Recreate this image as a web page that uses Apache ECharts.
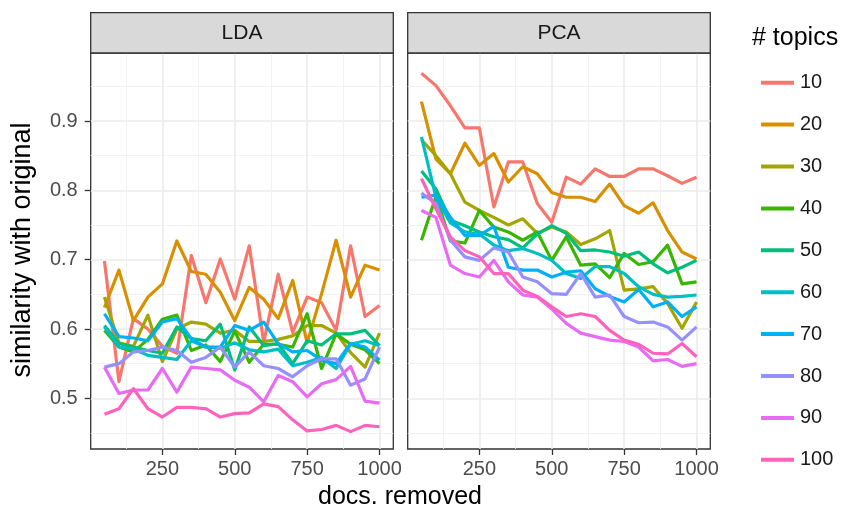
<!DOCTYPE html>
<html>
<head>
<meta charset="utf-8">
<script src="https://cdn.jsdelivr.net/npm/echarts@6/dist/echarts.min.js"></script>
<style>
html,body{margin:0;padding:0;background:#fff;}
#chart{width:845px;height:512px;}
</style>
</head>
<body>
<div id="chart"></div>
<script>
// ---- data ----
var docs = [50,100,150,200,250,300,350,400,450,500,550,600,650,700,750,800,850,900,950,1000];
var topics = ['10','20','30','40','50','60','70','80','90','100'];
var panels = ['LDA','PCA'];
var xTicks = [250,500,750,1000];
var yTicks = [0.5,0.6,0.7,0.8,0.9];

var lda_10  = [0.698,0.524,0.615,0.600,0.575,0.565,0.706,0.638,0.701,0.643,0.720,0.581,0.679,0.595,0.646,0.638,0.598,0.720,0.618,0.634];
var lda_20  = [0.631,0.685,0.612,0.646,0.665,0.727,0.683,0.679,0.653,0.612,0.660,0.643,0.615,0.670,0.580,0.651,0.728,0.646,0.692,0.685];
var lda_30  = [0.646,0.580,0.575,0.620,0.553,0.600,0.610,0.607,0.594,0.598,0.582,0.582,0.585,0.590,0.605,0.605,0.594,0.566,0.545,0.594];
var lda_40  = [0.598,0.574,0.567,0.585,0.614,0.620,0.569,0.577,0.553,0.597,0.552,0.578,0.578,0.574,0.622,0.543,0.593,0.578,0.570,0.550];
var lda_50  = [0.605,0.579,0.574,0.569,0.565,0.603,0.586,0.583,0.607,0.541,0.603,0.576,0.579,0.550,0.583,0.577,0.593,0.593,0.598,0.576];
var lda_60  = [0.603,0.574,0.571,0.562,0.559,0.556,0.583,0.574,0.572,0.580,0.570,0.567,0.571,0.547,0.552,0.559,0.543,0.578,0.583,0.576];
var lda_70  = [0.622,0.589,0.587,0.583,0.610,0.615,0.586,0.574,0.574,0.605,0.598,0.610,0.579,0.567,0.569,0.555,0.550,0.579,0.574,0.555];
var lda_80  = [0.545,0.550,0.567,0.569,0.574,0.569,0.552,0.559,0.574,0.545,0.567,0.547,0.543,0.531,0.547,0.557,0.557,0.519,0.528,0.574];
var lda_90  = [0.545,0.507,0.512,0.512,0.543,0.509,0.545,0.543,0.541,0.526,0.516,0.495,0.533,0.524,0.502,0.521,0.527,0.546,0.496,0.493];
var lda_100 = [0.477,0.485,0.514,0.485,0.473,0.487,0.487,0.485,0.473,0.478,0.479,0.492,0.488,0.469,0.453,0.455,0.461,0.452,0.461,0.459];

var pca_10  = [0.969,0.951,0.922,0.890,0.890,0.776,0.841,0.841,0.781,0.754,0.819,0.809,0.831,0.820,0.820,0.831,0.831,0.821,0.810,0.819];
var pca_20  = [0.928,0.845,0.824,0.868,0.836,0.853,0.812,0.834,0.824,0.797,0.790,0.790,0.784,0.809,0.778,0.767,0.782,0.742,0.711,0.701];
var pca_30  = [0.873,0.850,0.824,0.783,0.771,0.761,0.750,0.759,0.738,0.747,0.740,0.722,0.730,0.742,0.656,0.658,0.661,0.637,0.601,0.639];
var pca_40  = [0.728,0.791,0.727,0.724,0.771,0.747,0.740,0.728,0.740,0.699,0.733,0.692,0.694,0.674,0.709,0.693,0.697,0.721,0.665,0.668];
var pca_50  = [0.828,0.802,0.757,0.749,0.740,0.733,0.729,0.717,0.737,0.749,0.738,0.713,0.714,0.711,0.705,0.711,0.694,0.681,0.689,0.699];
var pca_60  = [0.877,0.790,0.753,0.740,0.737,0.721,0.713,0.716,0.709,0.699,0.680,0.673,0.690,0.690,0.680,0.661,0.650,0.646,0.647,0.649];
var pca_70  = [0.790,0.793,0.761,0.735,0.735,0.748,0.689,0.685,0.685,0.675,0.682,0.684,0.658,0.647,0.639,0.657,0.632,0.639,0.618,0.632];
var pca_80  = [0.796,0.781,0.728,0.704,0.699,0.717,0.711,0.675,0.668,0.651,0.650,0.680,0.646,0.649,0.618,0.609,0.610,0.603,0.584,0.603];
var pca_90  = [0.771,0.761,0.692,0.680,0.675,0.699,0.668,0.649,0.646,0.629,0.608,0.594,0.589,0.584,0.582,0.574,0.554,0.556,0.546,0.550];
var pca_100 = [0.817,0.773,0.733,0.713,0.704,0.680,0.680,0.656,0.647,0.632,0.618,0.622,0.618,0.598,0.584,0.578,0.565,0.564,0.579,0.560];

var ldaSeries = [lda_10,lda_20,lda_30,lda_40,lda_50,lda_60,lda_70,lda_80,lda_90,lda_100];
var pcaSeries = [pca_10,pca_20,pca_30,pca_40,pca_50,pca_60,pca_70,pca_80,pca_90,pca_100];

// ---- style ----
var colors = ['#F8766D','#D89000','#A3A500','#39B600','#00BF7D','#00BFC4','#00B0F6','#9590FF','#E76BF3','#FF62BC'];
var FONT = '"Liberation Sans", Arial, sans-serif';
var X_MIN = 2.5, X_MAX = 1047.5, Y_MIN = 0.4269, Y_MAX = 0.9981;
var gridBoxes = [
  {left: 90.7, top: 53, width: 302.6, height: 396},
  {left: 407.7, top: 53, width: 302.6, height: 396}
];
var xMinor = [125,375,625,875];
var yMinor = [0.45,0.55,0.65,0.75,0.85,0.95];

var chart = echarts.init(document.getElementById('chart'), null, {renderer: 'canvas'});

var grids = [], xAxes = [], yAxes = [], series = [];
gridBoxes.forEach(function (g, i) {
  grids.push({left: g.left, top: g.top, width: g.width, height: g.height, show: true,
    backgroundColor: '#ffffff', borderColor: '#333333', borderWidth: 1.3, containLabel: false});
  // major x
  xAxes.push({gridIndex: i, type: 'value', min: X_MIN, max: X_MAX, position: 'bottom',
    axisLine: {show: false},
    axisTick: {show: true, length: 6, customValues: xTicks, lineStyle: {color: '#333333', width: 1.3}},
    axisLabel: {show: true, customValues: xTicks, color: '#4D4D4D', fontSize: 20, fontFamily: FONT, margin: 10,
      formatter: function (v) { return String(Math.round(v)); }},
    splitLine: {show: true, lineStyle: {color: '#EBEBEB', width: 1.6}}
  });
  // minor x
  xAxes.push({gridIndex: i, type: 'value', min: X_MIN, max: X_MAX, position: 'bottom',
    axisLine: {show: false},
    axisTick: {show: false, customValues: xMinor},
    axisLabel: {show: false, customValues: xMinor},
    splitLine: {show: true, lineStyle: {color: '#F1F1F1', width: 0.9}}
  });
  yAxes.push({gridIndex: i, type: 'value', min: Y_MIN, max: Y_MAX, position: 'left',
    axisLine: {show: false},
    axisTick: {show: i === 0, length: 6, customValues: yTicks, lineStyle: {color: '#333333', width: 1.3}},
    axisLabel: {show: i === 0, customValues: yTicks, color: '#4D4D4D', fontSize: 20, fontFamily: FONT, margin: 13,
      formatter: function (v) { return v.toFixed(1); }},
    splitLine: {show: true, lineStyle: {color: '#EBEBEB', width: 1.6}}
  });
  yAxes.push({gridIndex: i, type: 'value', min: Y_MIN, max: Y_MAX, position: 'left',
    axisLine: {show: false},
    axisTick: {show: false, customValues: yMinor},
    axisLabel: {show: false, customValues: yMinor},
    splitLine: {show: true, lineStyle: {color: '#F1F1F1', width: 0.9}}
  });
});

function buildSeries(arrs, panelIdx) {
  arrs.forEach(function (vals, k) {
    series.push({
      name: topics[k], type: 'line', xAxisIndex: panelIdx * 2, yAxisIndex: panelIdx * 2,
      data: docs.map(function (d, j) { return [d, vals[j]]; }),
      showSymbol: false, symbol: 'none', smooth: false, animation: false,
      lineStyle: {color: colors[k], width: 3.2, join: 'round'},
      itemStyle: {color: colors[k]},
      z: 3 + k
    });
  });
}
buildSeries(ldaSeries, 0);
buildSeries(pcaSeries, 1);

var graphics = [];
panels.forEach(function (p, i) {
  var g = gridBoxes[i];
  graphics.push({type: 'rect', shape: {x: g.left, y: 12.7, width: g.width, height: g.top - 12.7},
    style: {fill: '#D9D9D9', stroke: '#333333', lineWidth: 1.3}, z: 10});
  graphics.push({type: 'text', x: g.left + g.width / 2, y: (12.7 + g.top) / 2,
    style: {text: p, fill: '#1A1A1A', font: '21px ' + FONT, align: 'center', verticalAlign: 'middle'}, z: 11});
});
graphics.push({type: 'text', x: 400, y: 497,
  style: {text: 'docs. removed', fill: '#000000', font: '25px ' + FONT, align: 'center', verticalAlign: 'middle'}});
graphics.push({type: 'text', x: 23, y: 250, rotation: Math.PI / 2,
  style: {text: 'similarity with original', fill: '#000000', font: '27px ' + FONT, align: 'center', verticalAlign: 'middle'}});
graphics.push({type: 'text', x: 752, y: 38,
  style: {text: '# topics', fill: '#000000', font: '25px ' + FONT, align: 'left', verticalAlign: 'middle'}});

chart.setOption({
  animation: false,
  backgroundColor: '#ffffff',
  grid: grids,
  xAxis: xAxes,
  yAxis: yAxes,
  series: series,
  legend: {
    show: true, orient: 'vertical', left: 756, top: 67.7,
    data: topics.map(function (t) { return {name: t, icon: 'rect'}; }),
    itemWidth: 33, itemHeight: 4, itemGap: 21.9, selectedMode: false,
    textStyle: {color: '#1A1A1A', fontSize: 20, fontFamily: FONT, lineHeight: 20, padding: [0, 0, 0, 1]}
  },
  graphic: graphics
});
</script>
</body>
</html>
